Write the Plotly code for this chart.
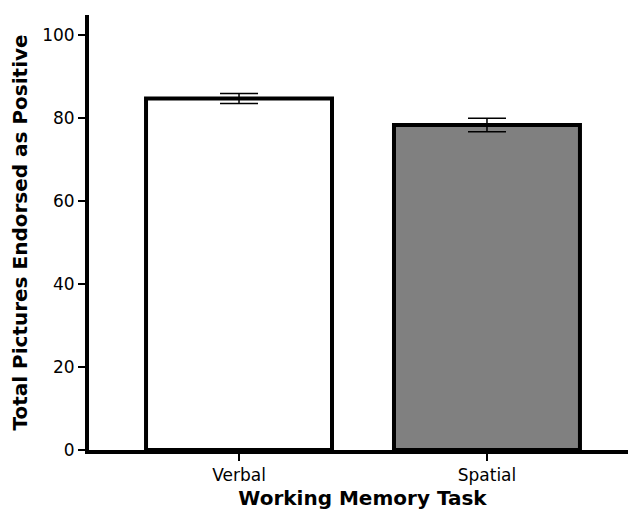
import plotly.graph_objects as go

categories = ["Verbal", "Spatial"]
means = [84.7, 78.3]
errors = [1.2, 1.6]
colors = ["#ffffff", "#808080"]

fig = go.Figure()
fig.add_trace(go.Bar(
    x=categories, y=means,
    width=0.75,
    marker=dict(color=colors, line=dict(color="black", width=4)),
    error_y=dict(type="data", array=errors, color="black", thickness=1.5, width=19),
))

fig.update_layout(
    width=628, height=509,
    margin=dict(l=81, r=0, t=7, b=67),
    plot_bgcolor="white", paper_bgcolor="white",
    showlegend=False,
    font=dict(family="DejaVu Sans", color="black"),
)
fig.update_xaxes(
    range=[-0.605, 1.601],
    automargin=False,
    showline=True, linecolor="black", linewidth=4,
    ticks="outside", ticklen=7, tickwidth=2, tickcolor="black",
    tickfont=dict(size=17),
    title=dict(text="<b>Working Memory Task</b>", font=dict(size=20), standoff=8),
    showgrid=False, zeroline=False,
)
fig.update_yaxes(
    range=[0, 104.8],
    automargin=False,
    tickvals=[0, 20, 40, 60, 80, 100],
    showline=True, linecolor="black", linewidth=4,
    ticks="outside", ticklen=7, tickwidth=2, tickcolor="black",
    tickfont=dict(size=17),
    title=dict(text="<b>Total Pictures Endorsed as Positive</b>", font=dict(size=20), standoff=12),
    showgrid=False, zeroline=False,
)

fig.write_html("out.html")
